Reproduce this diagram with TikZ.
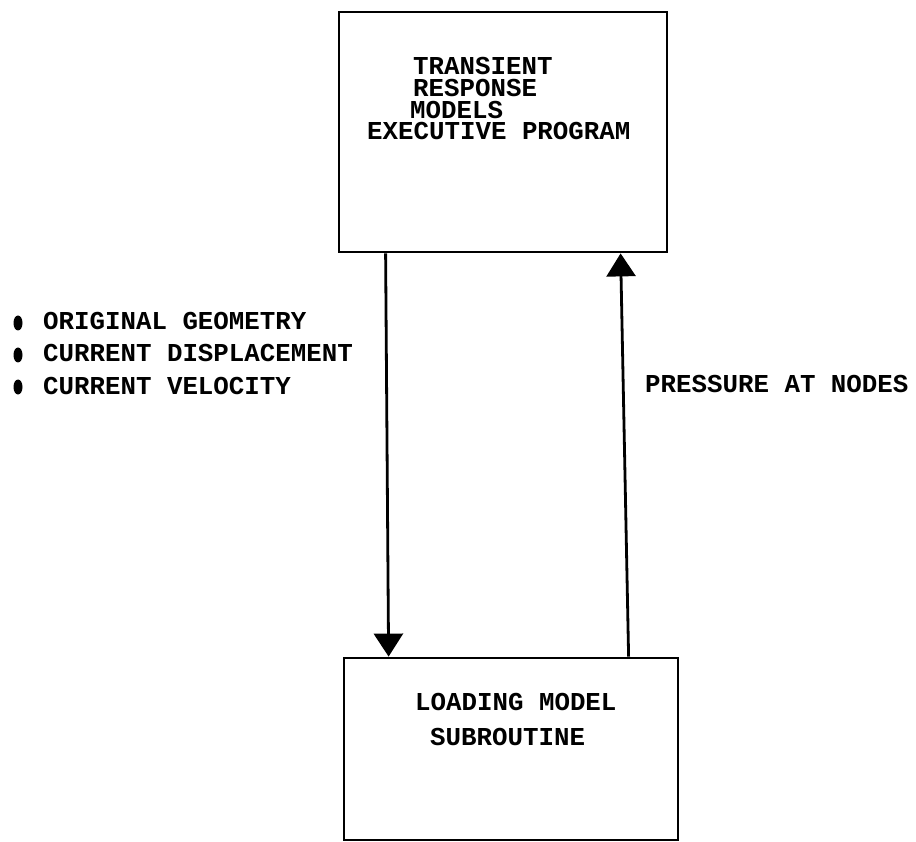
\documentclass[tikz,border=0pt]{standalone}
\usepackage{fontspec}
\newfontfamily\typefont{Liberation Mono}
\usetikzlibrary{arrows.meta,positioning,shapes.geometric}

\begin{document}
\begin{tikzpicture}[x=1pt,y=-1pt]
\tikzset{
  block/.style={rectangle,draw,line width=2.8pt,inner sep=0pt},
  textline/.style={inner sep=0pt,anchor=base west,text height=15pt,text depth=0pt,font=\typefont\bfseries\fontsize{25.8pt}{26pt}\selectfont},
  bulletdot/.style={ellipse,fill,draw=none,minimum width=9pt,minimum height=15pt,inner sep=0pt},
  flow/.style={-{Triangle[length=23pt,width=29pt]},line width=2.8pt}
}
\useasboundingbox (0,0) rectangle (916,842);
\node[block,minimum width=328pt,minimum height=240pt] (n_exec) at (503,132) {};
\node[block,minimum width=334pt,minimum height=182pt] (n_load) at (511,749) {};
\node[textline] (t_trans) at (413,75) {TRANSIENT};
\node[textline] (t_resp) at (413,97) {RESPONSE};
\node[textline] (t_models) at (410,119) {MODELS};
\node[textline] (t_exec) at (367,140) {EXECUTIVE PROGRAM};
\node[textline] (t_load) at (415,710) {LOADING MODEL};
\node[textline] (t_sub) at (430,745) {SUBROUTINE};
\node[textline] (t_press) at (645,392) {PRESSURE AT NODES};
\node[bulletdot] (b_geom) at (18,323) {};
\node[bulletdot] (b_disp) at (18,355) {};
\node[bulletdot] (b_vel) at (18,387) {};
\node[textline] (t_geom) at (43,330) {ORIGINAL GEOMETRY};
\node[textline] (t_disp) at (43,362) {CURRENT DISPLACEMENT};
\node[textline] (t_vel) at (43,394) {CURRENT VELOCITY};
\draw[flow] ([xshift=48pt]n_exec.south west) -- ([xshift=46pt]n_load.north west);
\draw[flow] ([xshift=286pt]n_load.north west) -- ([xshift=283pt]n_exec.south west);
\end{tikzpicture}
\end{document}
